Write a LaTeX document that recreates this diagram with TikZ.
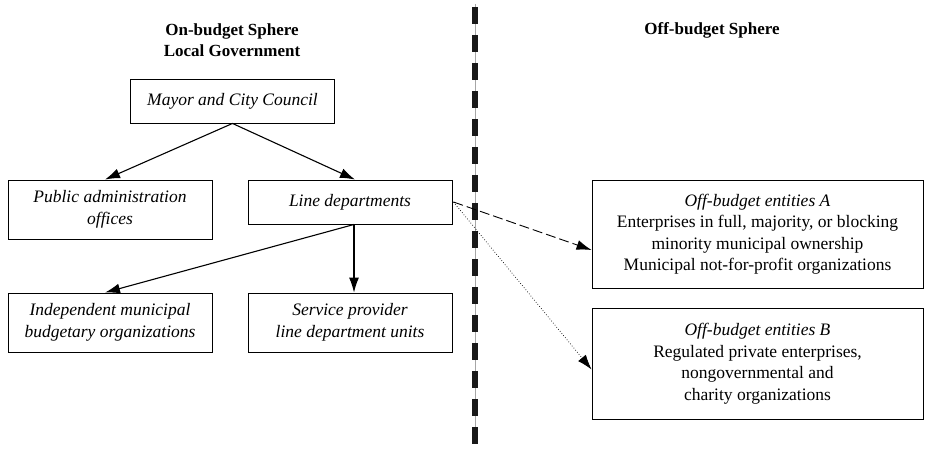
\documentclass[tikz,border=0pt]{standalone}
\usepackage{fontspec}
\setmainfont{Liberation Serif}
\usetikzlibrary{arrows.meta,calc}
\tikzset{
	unitbox/.style={draw, line width=0.9pt, align=center, inner sep=2pt, minimum width=204pt, font=\fontsize{17.5}{21.5}\selectfont\itshape},
	entitybox/.style={draw, line width=0.9pt, align=center, inner sep=2pt, minimum width=331pt, font=\fontsize{17.5}{21.5}\selectfont},
	spheretitle/.style={align=center, font=\fontsize{17}{20.5}\selectfont\bfseries},
	link/.style={line width=1.1pt, -{Latex[length=15pt,width=10pt]}}
}

\begin{document}
\begin{tikzpicture}[x=1pt, y=-1pt]
		%%%%% START %%%%%
		\useasboundingbox (0,0) rectangle (925,448);
		
		% divider between the two spheres
		\draw[line width=0.6pt, color=black!35] (475,4) -- (475,444);
		\draw[line width=5.5pt, color=black!90, dash pattern=on 17pt off 11pt] (475,7) -- (475,444);
		
		\node[spheretitle] (onsphere) at (232,40) {On-budget Sphere\\Local Government};
		\node[spheretitle] (offsphere) at (712,30) {Off-budget Sphere};
		
		\node[unitbox, minimum height=44pt] (mayor) at (232.5,101) {Mayor and City Council};
		\node[unitbox, minimum height=59pt] (pubadmin) at (110,209.5) {Public administration\\offices};
		\node[unitbox, minimum height=44pt] (linedep) at (350,202) {Line departments};
		\node[unitbox, minimum height=59pt] (indep) at (110,322.5) {Independent municipal\\budgetary organizations};
		\node[unitbox, minimum height=59pt] (service) at (350,322.5) {Service provider\\line department units};
		
		\node[entitybox, minimum height=108pt] (entA) at (757.5,234) {\textit{Off-budget entities A}\\Enterprises in full, majority, or blocking\\minority municipal ownership\\Municipal not-for-profit organizations};
		\node[entitybox, minimum height=111pt] (entB) at (757.5,363.5) {\textit{Off-budget entities B}\\Regulated private enterprises,\\nongovernmental and\\charity organizations};
		
		\draw[link] (mayor.south) -- ($(pubadmin.north)+(-5,0)$);
		\draw[link] (mayor.south) -- ($(linedep.north)+(5,0)$);
		\draw[link] ($(linedep.south)+(4,0)$) -- ($(indep.north)+(-5,0)$);
		\draw[link] ($(linedep.south)+(4,0)$) -- ($(service.north)+(4,0)$);
		
		\draw[link, line width=0.9pt, dash pattern=on 10pt off 4pt] ($(linedep.east)+(1,0)$) -- ($(entA.west)+(0,16)$);
		\draw[link, line width=0.7pt, dotted] ($(linedep.east)+(1,0)$) -- ($(entB.west)+(0,6)$);
		%%%%% END %%%%%
	\end{tikzpicture}
\end{document}
